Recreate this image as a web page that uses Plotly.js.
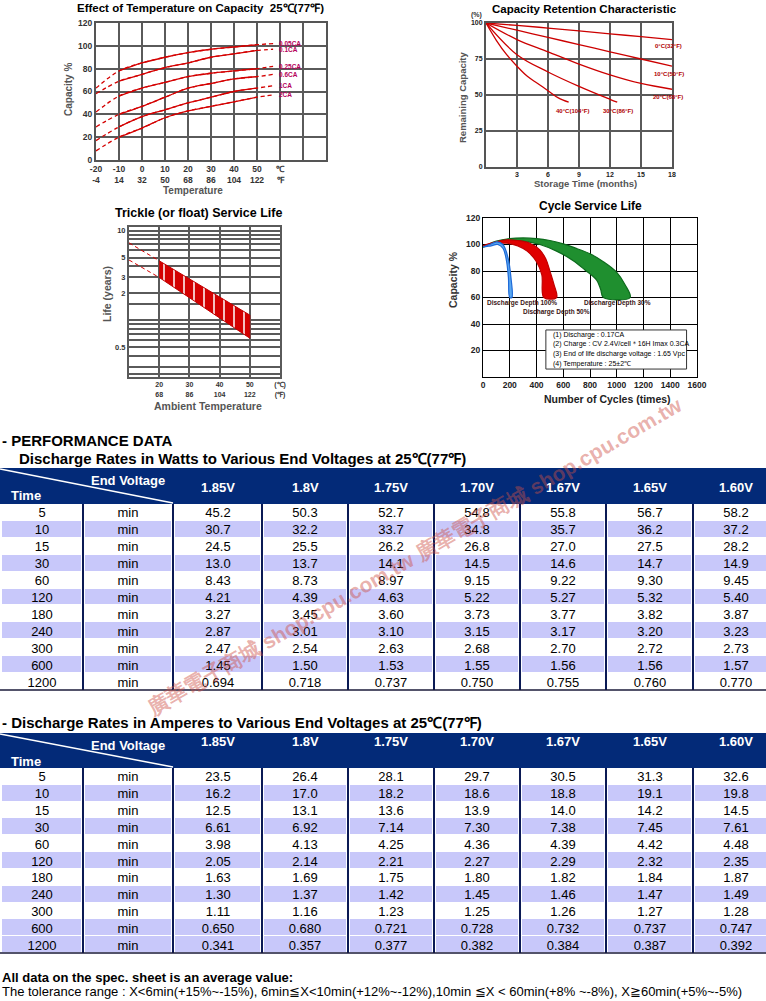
<!DOCTYPE html>
<html><head><meta charset="utf-8">
<script src="https://cdn.plot.ly/plotly-3.0.1.min.js"></script>
<style>html,body{margin:0;padding:0;background:#fff}#chart{width:766px;height:1001px}</style>
</head><body><div id="chart"></div>
<script>
// ================= DATA =================
// --- Effect of Temperature on Capacity ---
const tempC = [-20, -10, 0, 10, 20, 30, 40, 50, 57];
const tempTickC = [-20, -10, 0, 10, 20, 30, 40, 50];
const tempTickF = [-4, 14, 32, 50, 68, 86, 104, 122];
const rateLabels = ['0.05CA', '0.1CA', '0.25CA', '0.6CA', '1CA', '2CA'];
const cap005 = [63, 78, 85, 90, 94, 97, 99, 101, 102];
const cap01  = [58, 69, 75, 81, 85, 90, 93, 96, 97];
const cap025 = [42, 56, 63, 68, 73, 76, 78, 80, 82];
const cap06  = [29, 40, 47, 55, 63, 67, 71, 73, 75];
const cap1   = [17, 29, 38, 44, 50, 55, 60, 63, 65];
const cap2   = [8, 20, 28, 37, 43, 47, 51, 55, 57];

// --- Capacity Retention Characteristic ---
const months = [0, 3, 6, 9, 12, 15, 18];
const ret0  = [100, 98.3, 96.5, 94.5, 92.5, 90.5, 88.5];
const ret10 = [100, 95, 90, 85, 80, 75, 70];
const ret20 = [100, 88.5, 80, 71.5, 64, 58, 54];
const months30 = [0, 3, 6, 9, 12, 12.7];
const ret30 = [100, 78, 66, 56, 47, 45];
const months40 = [0, 1, 2, 3, 4, 5, 6, 7, 8];
const ret40 = [100, 88, 78, 70, 63, 58, 53, 48, 45];
const retLabels = ['0°C(32°F)', '10°C(50°F)', '20°C(68°F)', '30°C(86°F)', '40°C(104°F)'];
const storageTicks = [3, 6, 9, 12, 15, 18];
const retTicks = [0, 25, 50, 75, 100];

// --- Trickle (or float) Service Life ---
const bandTemp = [20, 50];
const lifeUpper = [4.6, 1.14];
const lifeLower = [3.0, 0.63];
const extTemp = [10, 20];
const extUpper = [7.3, 4.6];
const extLower = [4.7, 3.0];
const ambC = [20, 30, 40, 50];
const ambF = [68, 86, 104, 122];
const lifeLabelVals = [10, 5, 3, 2, 0.5];
const lifeGridVals = [0.25, 0.3, 0.4, 0.5, 0.6, 0.7, 0.8, 0.9, 1, 1.5, 2, 3, 4, 5, 6, 7, 8, 9, 10];

// --- Cycle Service Life ---
const dod30OuterX = [0, 100, 200, 300, 400, 500, 600, 700, 800, 900, 1000, 1060, 1100];
const dod30OuterY = [98, 102.5, 104.5, 105, 104.5, 103, 100.5, 97, 93, 87, 79, 70, 60];
const dod30InnerX = [0, 100, 200, 300, 425, 550, 672, 760, 851, 880, 900];
const dod30InnerY = [98, 101.5, 103, 102.5, 100, 95, 88, 81, 73, 66, 60];
const dod50OuterX = [0, 100, 180, 260, 350, 425, 470, 500, 530, 550];
const dod50OuterY = [99, 102, 103.5, 103, 101, 96, 89, 80, 70, 60];
const dod50InnerX = [0, 50, 180, 260, 330, 400, 440, 455];
const dod50InnerY = [99, 100, 101, 99, 95, 87, 77, 60];
const dod100OuterX = [0, 50, 104, 149, 187, 209, 216];
const dod100OuterY = [98, 100, 102, 100, 90, 75, 60];
const dod100InnerX = [0, 60, 110, 150, 175, 190, 200];
const dod100InnerY = [98, 99, 100, 97, 88, 75, 60];
const dodLabels = ['Discharge Depth 100%', 'Discharge Depth 50%', 'Discharge Depth 30%'];
const cycleNotes = ['(1) Discharge : 0.17CA',
                    '(2) Charge : CV 2.4V/cell\uFF0A16H Imax 0.3CA',
                    '(3) End of life discharge voltage : 1.65 Vpc',
                    '(4) Temperature : 25±2℃'];

// --- Performance tables ---
const timeMin = [5, 10, 15, 30, 60, 120, 180, 240, 300, 600, 1200];
const timeUnit = 'min';
const voltages = ['1.85V', '1.8V', '1.75V', '1.70V', '1.67V', '1.65V', '1.60V'];
const watts185 = [45.2, 30.7, 24.5, 13.0, 8.43, 4.21, 3.27, 2.87, 2.47, 1.45, 0.694];
const watts180 = [50.3, 32.2, 25.5, 13.7, 8.73, 4.39, 3.45, 3.01, 2.54, 1.50, 0.718];
const watts175 = [52.7, 33.7, 26.2, 14.1, 8.97, 4.63, 3.60, 3.10, 2.63, 1.53, 0.737];
const watts170 = [54.8, 34.8, 26.8, 14.5, 9.15, 5.22, 3.73, 3.15, 2.68, 1.55, 0.750];
const watts167 = [55.8, 35.7, 27.0, 14.6, 9.22, 5.27, 3.77, 3.17, 2.70, 1.56, 0.755];
const watts165 = [56.7, 36.2, 27.5, 14.7, 9.30, 5.32, 3.82, 3.20, 2.72, 1.56, 0.760];
const watts160 = [58.2, 37.2, 28.2, 14.9, 9.45, 5.40, 3.87, 3.23, 2.73, 1.57, 0.770];
const amps185 = [23.5, 16.2, 12.5, 6.61, 3.98, 2.05, 1.63, 1.30, 1.11, 0.650, 0.341];
const amps180 = [26.4, 17.0, 13.1, 6.92, 4.13, 2.14, 1.69, 1.37, 1.16, 0.680, 0.357];
const amps175 = [28.1, 18.2, 13.6, 7.14, 4.25, 2.21, 1.75, 1.42, 1.23, 0.721, 0.377];
const amps170 = [29.7, 18.6, 13.9, 7.30, 4.36, 2.27, 1.80, 1.45, 1.25, 0.728, 0.382];
const amps167 = [30.5, 18.8, 14.0, 7.38, 4.39, 2.29, 1.82, 1.46, 1.26, 0.732, 0.384];
const amps165 = [31.3, 19.1, 14.2, 7.45, 4.42, 2.32, 1.84, 1.47, 1.27, 0.737, 0.387];
const amps160 = [32.6, 19.8, 14.5, 7.61, 4.48, 2.35, 1.87, 1.49, 1.28, 0.747, 0.392];

// ================= LAYOUT CONSTANTS =================
const W = 766, H = 1001;
const FONT = '"Liberation Sans", Arial, Helvetica, sans-serif';
const COL_EDGES = [0, 83, 173, 262, 348, 434, 520, 606, 693, 779];
const STRIPE1 = [0, 1, 0, 1, 0, 1, 0, 1, 0, 1, 0];
const STRIPE2 = [0, 1, 0, 1, 0, 1, 0, 1, 0, 1, 1];
const NAVY = '#032a78';
const LAV = '#c8c8fa';
const px = v => v / W;
const py = v => 1 - v / H;
const xdom = (a, b) => [a / W, b / W];
const ydom = (top, bottom) => [1 - bottom / H, 1 - top / H];

const traces = [];
const annotations = [];
const shapes = [];

function ann(text, x, y, o) {
  o = o || {};
  annotations.push({
    xref: 'paper', yref: 'paper', x: px(x), y: py(y), text: text, showarrow: false,
    xanchor: o.xanchor || 'center', yanchor: o.yanchor || 'middle',
    textangle: o.angle || 0,
    font: {family: FONT, size: o.size || 11, color: o.color || '#000', weight: o.bold === false ? 'normal' : 'bold'}
  });
}

// ================= CHART 1: temperature =================
const RED = '#d40000';
const capSeries = [cap005, cap01, cap025, cap06, cap1, cap2];
capSeries.forEach((s, i) => {
  traces.push({x: tempC, y: s, xaxis: 'x', yaxis: 'y', mode: 'lines', hoverinfo: 'skip',
    line: {color: RED, width: 1.3, dash: '4px,3px', shape: 'spline'}});
  traces.push({x: tempC.slice(1, 8), y: s.slice(1, 8), xaxis: 'x', yaxis: 'y', mode: 'lines', hoverinfo: 'skip',
    line: {color: RED, width: 1.3, shape: 'spline'}});
  annotations.push({xref: 'x', yref: 'y', x: 58.5, y: s[s.length - 1], text: rateLabels[i], showarrow: false,
    xanchor: 'left', yanchor: 'middle', font: {family: FONT, size: 6.5, color: '#b5005a', weight: 'bold'}});
});

// ================= CHART 2: retention =================
const retSets = [[months, ret0], [months, ret10], [months, ret20], [months30, ret30], [months40, ret40]];
const retShift = [[-4, -6], [-3, -8], [-4, -8], [1, -9], [4, -9]];
retSets.forEach((p, i) => {
  traces.push({x: p[0], y: p[1], xaxis: 'x2', yaxis: 'y2', mode: 'lines', hoverinfo: 'skip',
    line: {color: '#cc0000', width: 1.3, shape: 'spline'}});
  annotations.push({xref: 'x2', yref: 'y2', x: p[0][p[0].length - 1], y: p[1][p[1].length - 1],
    text: retLabels[i], showarrow: false, xanchor: 'center', yanchor: 'middle',
    xshift: retShift[i][0], yshift: retShift[i][1],
    font: {family: FONT, size: 6, color: '#b00000', weight: 'bold'}});
});

// ================= CHART 3: trickle life =================
traces.push({x: extTemp, y: extUpper, xaxis: 'x3', yaxis: 'y3', mode: 'lines', hoverinfo: 'skip',
  line: {color: RED, width: 1, dash: '4px,3px'}});
traces.push({x: extTemp, y: extLower, xaxis: 'x3', yaxis: 'y3', mode: 'lines', hoverinfo: 'skip',
  line: {color: RED, width: 1, dash: '4px,3px'}});
traces.push({
  x: bandTemp.concat(bandTemp.slice().reverse()),
  y: lifeUpper.concat(lifeLower.slice().reverse()),
  xaxis: 'x3', yaxis: 'y3', mode: 'lines', fill: 'toself', hoverinfo: 'skip',
  fillcolor: '#d40000',
  fillpattern: {shape: '|', bgcolor: '#d40000', fgcolor: '#ffffff', size: 10, solidity: 0.15},
  line: {color: '#c00000', width: 1}
});

// ================= CHART 4: cycle life =================
function band(ox, oy, ix, iy, fill, line) {
  traces.push({x: ox.concat(ix.slice().reverse()), y: oy.concat(iy.slice().reverse()),
    xaxis: 'x4', yaxis: 'y4', mode: 'lines', fill: 'toself', fillcolor: fill, hoverinfo: 'skip',
    line: {color: line, width: 1.2, shape: 'spline'}});
}
band(dod30OuterX, dod30OuterY, dod30InnerX, dod30InnerY, '#1f8f2f', '#0d6b1d');
band(dod50OuterX, dod50OuterY, dod50InnerX, dod50InnerY, '#e00000', '#c00000');
band(dod100OuterX, dod100OuterY, dod100InnerX, dod100InnerY, '#5aa8f0', '#1e6ad8');
const dodPos = [[291, 55.8], [552, 49], [1007, 55.8]];
dodLabels.forEach((t, i) => annotations.push({xref: 'x4', yref: 'y4', x: dodPos[i][0], y: dodPos[i][1], text: t,
  showarrow: false, font: {family: FONT, size: 6.5, color: '#3a1515', weight: 'bold'}}));
shapes.push({type: 'rect', xref: 'x4', yref: 'y4', x0: 470, x1: 1522, y0: 6, y1: 35.5, layer: 'above',
  fillcolor: '#fff', line: {color: '#333', width: 1}});
const noteY = [31.7, 24.9, 17.4, 9.8];
cycleNotes.forEach((t, i) => annotations.push({xref: 'x4', yref: 'y4', x: 505, y: noteY[i], text: t,
  showarrow: false, xanchor: 'left', font: {family: FONT, size: 7, color: '#000'}}));

// ================= TABLES =================
function fmt(v) { return v.toPrecision(3); }
function buildTable(cols, stripe, xa, ya, hTop, hBot, bBot, endY, timeY, voltY) {
  const text = timeMin.map((t, r) => [String(t), timeUnit].concat(cols.map(c => fmt(c[r]))));
  const z = timeMin.map((t, r) => COL_EDGES.slice(1).map(() => stripe[r]));
  traces.push({type: 'heatmap', x: COL_EDGES, y: timeMin.map(String), z: z, text: text,
    texttemplate: '%{text}', textfont: {family: FONT, size: 13, color: '#000'},
    colorscale: [[0, '#ffffff'], [1, LAV]], zmin: 0, zmax: 1, showscale: false,
    xgap: 4, ygap: 1, hoverinfo: 'skip', xaxis: xa, yaxis: ya});
  shapes.push({type: 'rect', xref: 'paper', yref: 'paper', x0: 0, x1: 1, y0: py(hBot), y1: py(hTop),
    fillcolor: NAVY, line: {width: 0}});
  shapes.push({type: 'line', xref: 'paper', yref: 'paper', x0: 0, y0: py(hTop + 1), x1: px(173), y1: py(hBot - 1),
    line: {color: '#ffffff', width: 1.5}});
  COL_EDGES.slice(1, 9).forEach(e => shapes.push({type: 'line', xref: xa, yref: 'paper', x0: e, x1: e,
    y0: py(bBot), y1: py(hBot), line: {color: '#0b1a55', width: 2}}));
  shapes.push({type: 'line', xref: 'paper', yref: 'paper', x0: 0, x1: 1, y0: py(bBot), y1: py(bBot),
    line: {color: '#1a1a3a', width: 1.5}});
  ann('End Voltage', 128, endY, {size: 13, color: '#fff'});
  ann('Time', 26, timeY, {size: 13, color: '#fff'});
  voltages.forEach((v, i) => annotations.push({xref: xa, yref: 'paper', x: (COL_EDGES[i + 2] + COL_EDGES[i + 3]) / 2,
    y: py(voltY), text: v, showarrow: false, font: {family: FONT, size: 13, color: '#fff', weight: 'bold'}}));
}
buildTable([watts185, watts180, watts175, watts170, watts167, watts165, watts160], STRIPE1, 'x5', 'y5', 468, 504, 690, 480, 495, 487);
buildTable([amps185, amps180, amps175, amps170, amps167, amps165, amps160], STRIPE2, 'x6', 'y6', 733, 768, 953, 745, 761, 751);

// ================= TEXT =================
ann('Effect of Temperature on Capacity\u00a0\u00a025℃(77℉)', 200, 8, {size: 11.5});
ann('Capacity Retention Characteristic', 584, 9, {size: 11.5});
ann('Trickle (or float) Service Life', 198, 213, {size: 12.5});
ann('Cycle Service Life', 590, 206, {size: 12});
ann('Capacity %', 69, 90, {angle: -90, size: 10, color: '#555'});
ann('Temperature', 193, 191, {size: 10, color: '#555'});
ann('Remaining Capacity', 463, 97, {angle: -90, size: 9.5, color: '#555'});
ann('Storage Time (months)', 585, 183, {size: 9.5, color: '#555'});
ann('(%)', 477, 15, {size: 7, color: '#333'});
ann('Life (years)', 107, 294, {angle: -90, size: 10.5, color: '#555'});
ann('Ambient Temperature', 208, 406, {size: 10.5, color: '#555'});
ann('Capacity %', 453, 280, {angle: -90, size: 10.5, color: '#333'});
ann('Number of Cycles (times)', 607, 399, {size: 10.5, color: '#222'});

ann('- PERFORMANCE DATA', 0, 440, {size: 15, xanchor: 'left'});
ann('Discharge Rates in Watts to Various End Voltages at 25℃(77℉)', 17, 458, {size: 15, xanchor: 'left'});
ann('- Discharge Rates in Amperes to Various End Voltages at 25℃(77℉)', 0, 722, {size: 15, xanchor: 'left'});
ann('All data on the spec. sheet is an average value:', 0, 977, {size: 13, xanchor: 'left'});
ann('The tolerance range : X&lt;6min(+15%~-15%), 6min≦X&lt;10min(+12%~-12%),10min ≦X &lt; 60min(+8% ~-8%), X≧60min(+5%~-5%)',
    0, 991, {size: 13, xanchor: 'left', bold: false});

// watermark
ann('廣華電子商城 shop.cpu.com.tw 廣華電子商城 shop.cpu.com.tw', 414, 556, {size: 21, angle: -30, color: 'rgba(205,80,70,0.45)'});

// ================= AXES =================
const base = {showline: true, mirror: true, showgrid: true, zeroline: false, ticks: '', fixedrange: true};
const tf = (s, c) => ({family: FONT, size: s, color: c || '#333', weight: 'bold'});
const hidden = {visible: false, fixedrange: true, showgrid: false, zeroline: false};

const layout = {
  width: W, height: H, margin: {l: 0, r: 0, t: 0, b: 0},
  paper_bgcolor: '#fff', plot_bgcolor: '#fff', showlegend: false, font: {family: FONT},
  xaxis: Object.assign({}, base, {domain: xdom(96, 326), range: [-20, 80], anchor: 'y',
    tickvals: tempTickC.concat([60, 70]),
    ticktext: tempTickC.map((c, i) => c + '<br>' + tempTickF[i]).concat(['℃<br>℉', '']),
    linecolor: '#555', linewidth: 2, gridcolor: '#5a5a5a', gridwidth: 2, tickfont: tf(8.5)}),
  yaxis: Object.assign({}, base, {domain: ydom(23, 160), range: [0, 120], anchor: 'x',
    tickvals: [0, 20, 40, 60, 80, 100, 120],
    linecolor: '#555', linewidth: 2, gridcolor: '#5a5a5a', gridwidth: 2, tickfont: tf(8.5)}),
  xaxis2: Object.assign({}, base, {domain: xdom(486, 672), range: [0, 18], anchor: 'y2',
    tickvals: storageTicks, linecolor: '#555', linewidth: 2, gridcolor: '#5a5a5a', gridwidth: 2, tickfont: tf(7, '#222')}),
  yaxis2: Object.assign({}, base, {domain: ydom(23, 167), range: [0, 100], anchor: 'x2',
    tickvals: retTicks, linecolor: '#555', linewidth: 2, gridcolor: '#5a5a5a', gridwidth: 2, tickfont: tf(7, '#222')}),
  xaxis3: Object.assign({}, base, {domain: xdom(129, 280), range: [10, 60], anchor: 'y3',
    tickvals: ambC.concat([60]),
    ticktext: ambC.map((c, i) => c + '<br>' + ambF[i]).concat(['(℃)<br>(℉)']),
    linecolor: '#5a5a5a', linewidth: 2, gridcolor: '#5a5a5a', gridwidth: 2, tickfont: tf(7)}),
  yaxis3: Object.assign({}, base, {domain: ydom(227, 377), type: 'log', range: [-0.634, 1.04], anchor: 'x3',
    tickvals: lifeGridVals, ticktext: lifeGridVals.map(v => lifeLabelVals.indexOf(v) >= 0 ? String(v) : ''),
    linecolor: '#5a5a5a', linewidth: 2, gridcolor: '#5a5a5a', gridwidth: 2, tickfont: tf(7.5)}),
  xaxis4: Object.assign({}, base, {domain: xdom(483, 697), range: [0, 1600], anchor: 'y4', dtick: 200, tick0: 0,
    linecolor: '#000', linewidth: 1, gridcolor: '#000', gridwidth: 1, tickfont: tf(8.5, '#222')}),
  yaxis4: Object.assign({}, base, {domain: ydom(218, 377), range: [0, 120], anchor: 'x4',
    tickvals: [0, 20, 40, 60, 80, 100, 120], ticktext: ['', '20', '40', '60', '80', '100', '120'],
    linecolor: '#000', linewidth: 1, gridcolor: '#000', gridwidth: 1, tickfont: tf(8.5, '#222')}),
  xaxis5: Object.assign({}, hidden, {domain: [0, 1], range: [0, W], anchor: 'y5'}),
  yaxis5: Object.assign({}, hidden, {domain: ydom(504, 690), type: 'category', autorange: 'reversed', anchor: 'x5'}),
  xaxis6: Object.assign({}, hidden, {domain: [0, 1], range: [0, W], anchor: 'y6'}),
  yaxis6: Object.assign({}, hidden, {domain: ydom(768, 953), type: 'category', autorange: 'reversed', anchor: 'x6'}),
  annotations: annotations,
  shapes: shapes
};

Plotly.newPlot('chart', traces, layout, {staticPlot: true, displayModeBar: false});
</script>
</body></html>
